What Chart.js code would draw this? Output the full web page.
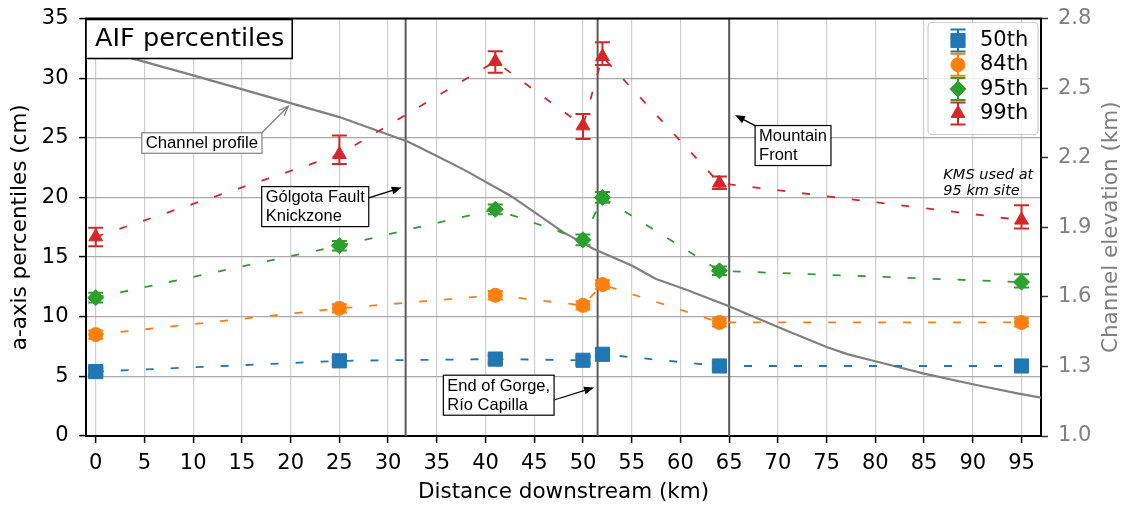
<!DOCTYPE html>
<html>
<head>
<meta charset="utf-8">
<script src="https://cdn.jsdelivr.net/npm/chart.js@4.4.1/dist/chart.umd.min.js"></script>
<style>
  html, body { margin: 0; padding: 0; background: #fff; }
</style>
</head>
<body>
<canvas id="myChart" width="1125" height="506"></canvas>
<script>
// sampling sites (km downstream)
const distKm = [0, 25, 41, 50, 52, 64, 95];

// percentiles (cm) with error bar ends
const p50 = [5.4, 6.3, 6.45, 6.35, 6.85, 5.87, 5.87];
const p50Lo = [5.1, 6.0, 6.15, 6.05, 6.5, 5.6, 5.6];
const p50Hi = [5.7, 6.6, 6.75, 6.65, 7.2, 6.15, 6.15];

const p84 = [8.5, 10.7, 11.8, 10.95, 12.7, 9.52, 9.52];
const p84Lo = [8.15, 10.35, 11.45, 10.6, 12.35, 9.17, 9.17];
const p84Hi = [8.85, 11.05, 12.15, 11.3, 13.05, 9.87, 9.87];

const p95 = [11.6, 15.95, 19.0, 16.45, 20.0, 13.85, 12.9];
const p95Lo = [11.2, 15.55, 18.6, 16.0, 19.55, 13.5, 12.45];
const p95Hi = [12.0, 16.35, 19.4, 16.9, 20.45, 14.2, 13.55];

const p99 = [16.7, 23.6, 31.4, 26.0, 31.8, 21.2, 18.1];
const p99Lo = [15.9, 22.8, 30.45, 24.9, 31.1, 20.7, 17.4];
const p99Hi = [17.45, 25.2, 32.25, 27.0, 33.0, 21.75, 19.35];

// channel profile (km, elevation km)
const profKm = [-1, 4, 10, 20, 25, 30, 32, 35, 38, 42.6, 48, 51.1, 55, 57.5, 60.4, 64.8, 70, 75, 77.2, 80.3, 85, 90, 94.7, 97];
const profElev = [2.68, 2.625, 2.555, 2.435, 2.375, 2.30, 2.27, 2.207, 2.143, 2.035, 1.878, 1.806, 1.735, 1.677, 1.634, 1.563, 1.470, 1.384, 1.352, 1.319, 1.269, 1.223, 1.183, 1.165];

// knickzone / gorge / mountain front positions (km)
const markerKm = [31.8, 51.5, 65.0];

const xTicks = [0, 5, 10, 15, 20, 25, 30, 35, 40, 45, 50, 55, 60, 65, 70, 75, 80, 85, 90, 95];
const yTicks = [0, 5, 10, 15, 20, 25, 30, 35];
const elevTicks = [1.0, 1.3, 1.6, 1.9, 2.2, 2.5, 2.8];

const seriesNames = ['50th', '84th', '95th', '99th'];

const FONT = 'DejaVu Sans';
const ANNO_FONT = '"Liberation Sans", Arial, sans-serif';
Chart.defaults.font.family = FONT;
Chart.defaults.font.size = 21;
Chart.defaults.color = '#000';

const pts = (xs, ys) => xs.map((v, i) => ({ x: v, y: ys[i] }));

function series(label, vals, lo, hi, color, style, radius) {
  return {
    label: label,
    data: pts(distKm, vals),
    errLo: lo,
    errHi: hi,
    yAxisID: 'y',
    showLine: true,
    borderColor: color,
    backgroundColor: color,
    borderWidth: 1.8,
    borderDash: [8, 17],
    pointStyle: style,
    pointRadius: radius,
    pointBackgroundColor: color,
    pointBorderColor: color,
    pointBorderWidth: 1,
  };
}

const datasets = [
  series(seriesNames[0], p50, p50Lo, p50Hi, '#1f77b4', 'rect', 10),
  series(seriesNames[1], p84, p84Lo, p84Hi, '#ff7f0e', 'circle', 7),
  series(seriesNames[2], p95, p95Lo, p95Hi, '#2ca02c', 'rectRot', 8),
  series(seriesNames[3], p99, p99Lo, p99Hi, '#d62728', 'triangle', 8),
  {
    label: 'Channel profile',
    data: pts(profKm, profElev),
    yAxisID: 'y2',
    showLine: true,
    borderColor: '#808080',
    borderWidth: 2.2,
    pointRadius: 0,
  }
];

// text notes placed in data units (box left, box middle, arrow tip)
const notes = [
  { lines: ['Channel profile'], x: 4.72, y: 24.56, tipX: 19.76, tipY: 27.65, from: [1, 0], color: '#808080', size: 16.7, open: true },
  { lines: ['Gólgota Fault', 'Knickzone'], x: 17.03, y: 19.23, tipX: 31.4, tipY: 20.83, from: [1, 0.28], color: '#000', size: 16.5 },
  { lines: ['End of Gorge,', 'Río Capilla'], x: 35.67, y: 3.42, tipX: 51.13, tipY: 4.07, from: [1, 0.62], color: '#000', size: 16.5 },
  { lines: ['Mountain', 'Front'], x: 67.66, y: 24.35, tipX: 65.6, tipY: 26.9, from: [0.02, 0.02], color: '#000', size: 16.5 }
];

function arrow(ctx, x0, y0, x1, y1, color, open) {
  const ang = Math.atan2(y1 - y0, x1 - x0);
  const L = 10, W = 4;
  ctx.strokeStyle = color;
  ctx.fillStyle = color;
  ctx.lineWidth = 1.3;
  ctx.beginPath();
  ctx.moveTo(x0, y0);
  ctx.lineTo(open ? x1 : x1 - Math.cos(ang) * L * 0.8, open ? y1 : y1 - Math.sin(ang) * L * 0.8);
  ctx.stroke();
  const bx = x1 - Math.cos(ang) * L, by = y1 - Math.sin(ang) * L;
  const nx = -Math.sin(ang) * W, ny = Math.cos(ang) * W;
  ctx.beginPath();
  ctx.moveTo(bx + nx, by + ny);
  ctx.lineTo(x1, y1);
  ctx.lineTo(bx - nx, by - ny);
  if (open) { ctx.stroke(); } else { ctx.closePath(); ctx.fill(); }
}

const overlay = {
  id: 'overlay',
  beforeDatasetsDraw(chart) {
    const { ctx, chartArea: a, scales: { x, y } } = chart;
    ctx.save();
    ctx.beginPath();
    ctx.rect(a.left, a.top, a.width, a.height);
    ctx.clip();
    ctx.strokeStyle = '#5a5a5a';
    ctx.lineWidth = 2;
    markerKm.forEach(k => {
      const px = x.getPixelForValue(k);
      ctx.beginPath();
      ctx.moveTo(px, a.top);
      ctx.lineTo(px, a.bottom);
      ctx.stroke();
    });
    chart.data.datasets.forEach(ds => {
      if (!ds.errLo) return;
      ctx.strokeStyle = ds.borderColor;
      ctx.lineWidth = 2;
      distKm.forEach((k, i) => {
        const px = x.getPixelForValue(k);
        const lo = y.getPixelForValue(ds.errLo[i]);
        const hi = y.getPixelForValue(ds.errHi[i]);
        ctx.beginPath();
        ctx.moveTo(px, lo); ctx.lineTo(px, hi);
        ctx.moveTo(px - 7.5, lo); ctx.lineTo(px + 7.5, lo);
        ctx.moveTo(px - 7.5, hi); ctx.lineTo(px + 7.5, hi);
        ctx.stroke();
      });
    });
    ctx.restore();
  },
  afterDraw(chart) {
    const { ctx, chartArea: a, scales: { x, y } } = chart;
    ctx.save();

    // top spine
    ctx.strokeStyle = '#000';
    ctx.lineWidth = 2;
    ctx.beginPath();
    ctx.moveTo(a.left - 1, a.top);
    ctx.lineTo(a.right + 1, a.top);
    ctx.stroke();

    // notes
    notes.forEach(n => {
      ctx.font = n.size + 'px ' + ANNO_FONT;
      const lh = 19.5;
      const w = Math.max(...n.lines.map(t => ctx.measureText(t).width)) + 8;
      const h = n.lines.length * lh + 1;
      const left = x.getPixelForValue(n.x);
      const top = y.getPixelForValue(n.y) - h / 2;
      const sx = left + w * n.from[0], sy = top + h * n.from[1];
      arrow(ctx, sx, sy, x.getPixelForValue(n.tipX), y.getPixelForValue(n.tipY), n.color, n.open);
      ctx.fillStyle = '#fff';
      ctx.fillRect(left, top, w, h);
      ctx.strokeStyle = n.color;
      ctx.lineWidth = 1.2;
      ctx.strokeRect(left, top, w, h);
      ctx.fillStyle = '#000';
      ctx.textAlign = 'left';
      ctx.textBaseline = 'middle';
      n.lines.forEach((t, i) => ctx.fillText(t, left + 4, top + 1 + lh * (i + 0.5)));
    });

    // italic site note
    ctx.font = 'italic 14.5px ' + FONT;
    ctx.fillStyle = '#000';
    ctx.textAlign = 'left';
    ctx.textBaseline = 'middle';
    const kx = x.getPixelForValue(86.98), ky = y.getPixelForValue(21.89);
    ctx.fillText('KMS used at', kx, ky);
    ctx.fillText('95 km site', kx, ky + 16.7);

    // title box
    ctx.font = '25.6px ' + FONT;
    const tw = ctx.measureText('AIF percentiles').width;
    ctx.fillStyle = '#fff';
    ctx.fillRect(a.left, a.top + 1, tw + 17, 39);
    ctx.strokeStyle = '#000';
    ctx.lineWidth = 1.6;
    ctx.strokeRect(a.left, a.top + 1, tw + 17, 39);
    ctx.fillStyle = '#000';
    ctx.fillText('AIF percentiles', a.left + 9, a.top + 21);

    // legend
    const lx = a.right - 113, ly = a.top + 4, lw = 110, lh = 112;
    ctx.beginPath();
    ctx.roundRect(lx, ly, lw, lh, 4);
    ctx.fillStyle = 'rgba(255,255,255,0.8)';
    ctx.fill();
    ctx.strokeStyle = '#cccccc';
    ctx.lineWidth = 1.2;
    ctx.stroke();
    ctx.font = '21px ' + FONT;
    chart.data.datasets.slice(0, 4).forEach((ds, i) => {
      const mx = lx + 30, my = ly + 18 + i * 24.3;
      ctx.strokeStyle = ds.borderColor;
      ctx.fillStyle = ds.borderColor;
      ctx.lineWidth = 2;
      ctx.beginPath();
      ctx.moveTo(mx, my - 11); ctx.lineTo(mx, my + 11);
      ctx.moveTo(mx - 7.5, my - 11); ctx.lineTo(mx + 7.5, my - 11);
      ctx.moveTo(mx - 7.5, my + 11); ctx.lineTo(mx + 7.5, my + 11);
      ctx.stroke();
      ctx.lineWidth = 1;
      Chart.helpers.drawPoint(ctx, { pointStyle: ds.pointStyle, radius: ds.pointRadius, rotation: 0, borderWidth: 1 }, mx, my);
      ctx.fillStyle = '#000';
      ctx.textAlign = 'left';
      ctx.textBaseline = 'middle';
      ctx.fillText(ds.label, lx + 52, my);
    });

    // right axis title, reading bottom to top
    ctx.translate(chart.width - 14, (a.top + a.bottom) / 2);
    ctx.rotate(-Math.PI / 2);
    ctx.font = '21.5px ' + FONT;
    ctx.fillStyle = '#808080';
    ctx.textAlign = 'center';
    ctx.textBaseline = 'middle';
    ctx.fillText('Channel elevation (km)', 0, 0);
    ctx.restore();
  }
};

// fixed axis box sizes, no extra label overhang padding
const fixBox = (w, h) => s => {
  if (w) s.width = w;
  if (h) s.height = h;
  s.paddingTop = 0; s.paddingBottom = 0; s.paddingLeft = 0; s.paddingRight = 0;
};

const ctx = document.getElementById('myChart');
const myChart = new Chart(ctx, {
  type: 'scatter',
  data: { datasets: datasets },
  plugins: [overlay],
  options: {
    responsive: false,
    animation: false,
    layout: { autoPadding: false, padding: { top: 18.5, left: 0, right: 0, bottom: 0 } },
    plugins: {
      legend: { display: false },
      tooltip: { enabled: false }
    },
    scales: {
      x: {
        type: 'linear',
        min: -1,
        max: 97,
        afterBuildTicks: s => { s.ticks = xTicks.map(v => ({ value: v })); },
        afterFit: fixBox(0, 70),
        ticks: { autoSkip: false, maxRotation: 0, padding: 8, color: '#000', callback: v => String(v) },
        grid: { color: '#cfcfcf', lineWidth: 1.2, tickColor: '#000', tickLength: 7, tickWidth: 1.5 },
        border: { color: '#000', width: 2 },
        title: { display: true, text: 'Distance downstream (km)', font: { size: 21.5 }, padding: { top: 0, bottom: 1 } }
      },
      y: {
        position: 'left',
        min: 0,
        max: 35,
        afterBuildTicks: s => { s.ticks = yTicks.map(v => ({ value: v })); },
        afterFit: fixBox(86, 0),
        ticks: { padding: 10.5, color: '#000', callback: v => String(v) },
        grid: { color: '#aaaaaa', lineWidth: 1.2, tickColor: '#000', tickLength: 7, tickWidth: 1.5 },
        border: { color: '#000', width: 2 },
        title: { display: true, text: 'a-axis percentiles (cm)', font: { size: 21.5 }, padding: { top: 8, bottom: 0 } }
      },
      y2: {
        position: 'right',
        min: 1.0,
        max: 2.8,
        afterBuildTicks: s => { s.ticks = elevTicks.map(v => ({ value: v })); },
        afterFit: fixBox(84, 0),
        ticks: { padding: 10, color: '#808080', callback: v => v.toFixed(1) },
        grid: { drawOnChartArea: false, tickColor: '#333', tickLength: 7, tickWidth: 1.5 },
        border: { color: '#000', width: 2 }
      }
    }
  }
});
</script>
</body>
</html>
